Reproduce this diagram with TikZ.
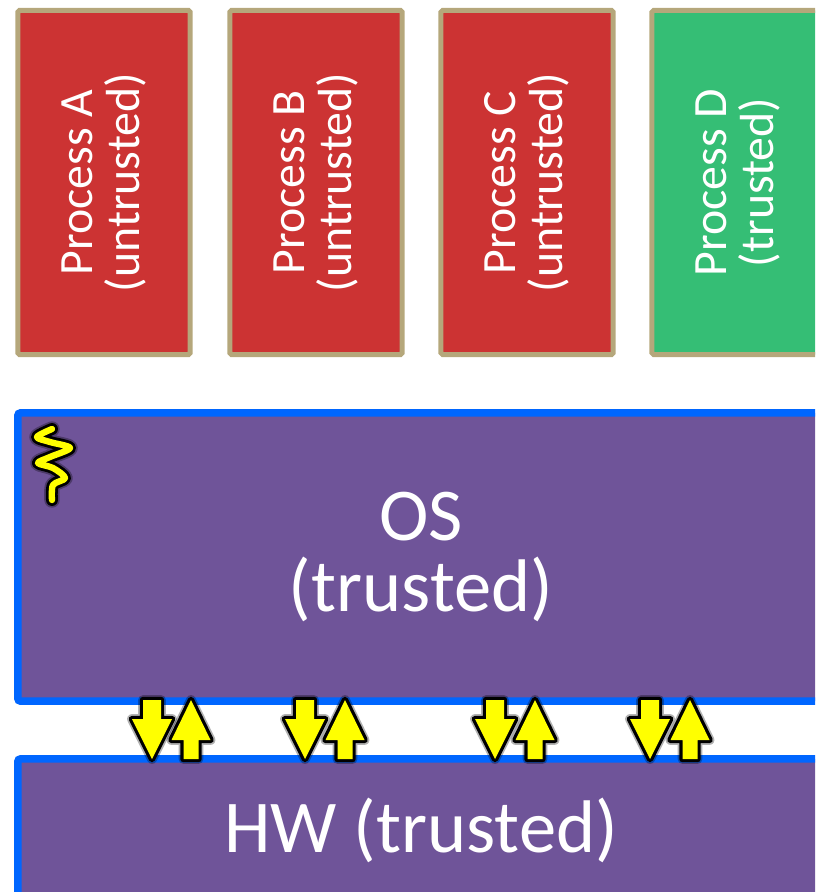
\documentclass[tikz,border=0pt]{standalone}
\usepackage{fontspec}
\setmainfont{Carlito}
\definecolor{procred}{HTML}{CC3333}
\definecolor{procgreen}{HTML}{35BE75}
\definecolor{procedge}{HTML}{B5A77B}
\definecolor{syspurple}{HTML}{6F5499}
\definecolor{sysblue}{HTML}{0066FF}
\definecolor{threadyellow}{HTML}{FFFF00}
\tikzset{
  procbox/.style={draw=procedge, line width=.125cm, rounded corners=.04cm, text=white,
    minimum width=8.6cm, minimum height=4.3cm, align=center, rotate=90,
    font=\fontsize{34}{33.5}\selectfont},
  sysbox/.style={draw=sysblue, fill=syspurple, line width=.1875cm, rounded corners=.06cm, text=white,
    minimum width=20.15cm, align=center, font=\fontsize{53}{51}\selectfont},
  glow/.style={preaction={draw=black, opacity=.3, line width=7pt, line join=round},
    preaction={draw=black, line width=4.6pt, line join=round}},
  downarrow/.pic={
    \fill[threadyellow, glow] (-9,-30) -- (9,-30) -- (9,-11) -- (20,-11) -- (0,29) -- (-20,-11) -- (-9,-11) -- cycle;
  },
  uparrow/.pic={
    \fill[threadyellow, glow] (-7.5,29) -- (7.5,29) -- (7.5,10) -- (19.5,10) -- (0,-30) -- (-19.5,10) -- (-7.5,10) -- cycle;
  }
}
\begin{document}
\begin{tikzpicture}[x=.025cm,y=-.025cm]
  \useasboundingbox[clip] (0,0) rectangle (815,892);
  % processes
  \node[procbox, fill=procred] (procA) at (104,182.5) {Process A\\(untrusted)};
  \node[procbox, fill=procred] (procB) at (316,182.5) {Process B\\(untrusted)};
  \node[procbox, fill=procred] (procC) at (527,182.5) {Process C\\(untrusted)};
  \node[procbox, fill=procgreen] (procD) at (738,182.5) {Process D\\(trusted)};

  % OS and hardware
  \node[sysbox, minimum height=7.2cm] (os) at (421,557) {OS\\(trusted)};
  \node[sysbox, minimum height=3.55cm] (hw) at (421,830) {HW (trusted)};

  % thread
  \draw[black, opacity=.3, line width=11pt, line cap=round, line join=round] plot[smooth, tension=.55] coordinates {(52,429) (37,437) (50,442) (70,448) (50,457) (38,463) (53,468) (65,478) (53,485) (52,500)};
  \draw[black, line width=8.5pt, line cap=round, line join=round] plot[smooth, tension=.55] coordinates {(52,429) (37,437) (50,442) (70,448) (50,457) (38,463) (53,468) (65,478) (53,485) (52,500)};
  \draw[threadyellow, line width=4.5pt, line cap=round, line join=round] plot[smooth, tension=.55] coordinates {(52,429) (37,437) (50,442) (70,448) (50,457) (38,463) (53,468) (65,478) (53,485) (52,500)};

  % calls between OS and hardware
  \pic (downA) at (152,730) {downarrow};
  \pic (upA) at (191,730) {uparrow};
  \pic (downB) at (305,730) {downarrow};
  \pic (upB) at (345,730) {uparrow};
  \pic (downC) at (495,730) {downarrow};
  \pic (upC) at (535,730) {uparrow};
  \pic (downD) at (650,730) {downarrow};
  \pic (upD) at (690,730) {uparrow};
\end{tikzpicture}
\end{document}
